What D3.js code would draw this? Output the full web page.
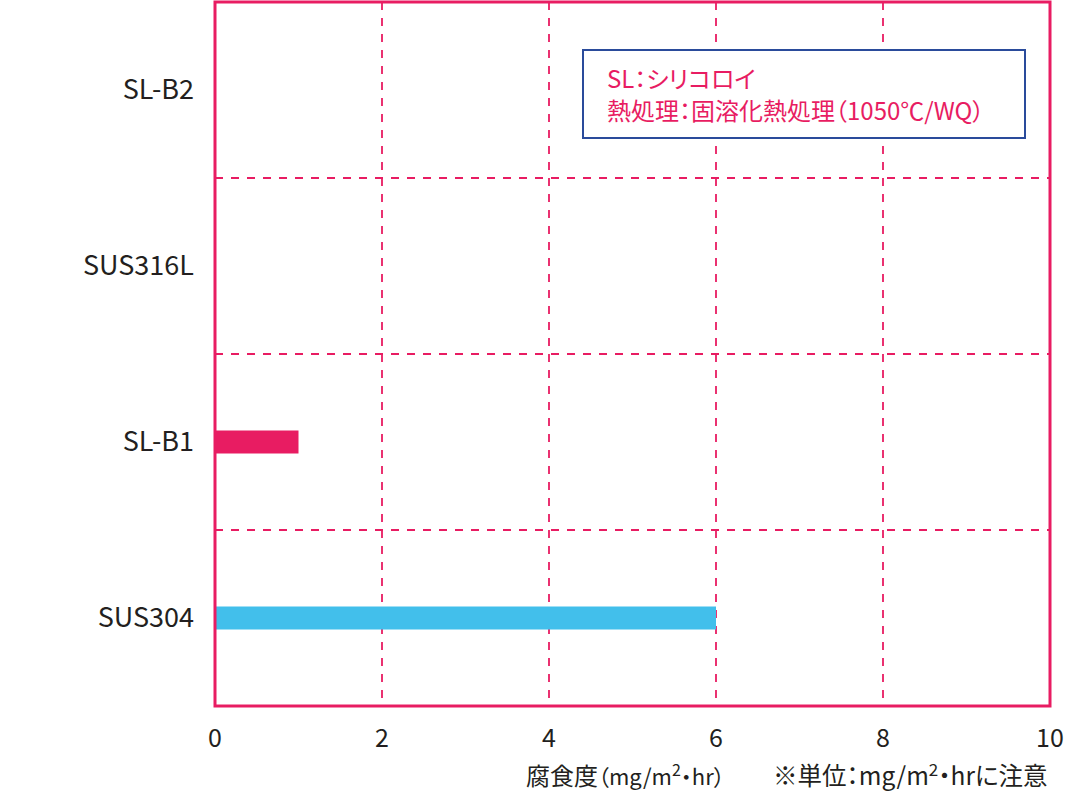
<!DOCTYPE html>
<html><head><meta charset="utf-8">
<script src="https://cdn.jsdelivr.net/npm/d3@7"></script>
<style>body{margin:0;background:#fff}svg{display:block}text{font-family:"Noto Sans CJK JP","Noto Sans",sans-serif;font-feature-settings:"palt"}</style>
</head><body>
<script>
const categories = ["SL-B2","SUS316L","SL-B1","SUS304"];
const values = [0,0,1,6];
const barColors = ["#e81c62","#e81c62","#e81c62","#42bfeb"];
const xTicks = [0,2,4,6,8,10];
const legendLines = ["SL：シリコロイ","熱処理：固溶化熱処理（1050℃/WQ）"];
const xTitleHead = "腐食度";
const xTitleUnit = "（mg/m";
const note = "※単位：mg/m";

const W=1070,H=795, pink="#e81c62", ink="#231f20";
const L=215,R=1050,T=2,B=706;
const svg=d3.select("body").append("svg").attr("width",W).attr("height",H);
const x=d3.scaleLinear().domain([0,10]).range([L,R]);
const y=d3.scaleBand().domain(categories).range([T,B]);

// grid
svg.append("g").selectAll("line").data(xTicks.filter(t=>t>0&&t<10)).join("line")
 .attr("x1",d=>x(d)).attr("x2",d=>x(d)).attr("y1",T).attr("y2",B)
 .attr("stroke",pink).attr("stroke-width",1.8).attr("stroke-dasharray","8,8");
svg.append("g").selectAll("line").data(categories.slice(1)).join("line")
 .attr("x1",L).attr("x2",R).attr("y1",d=>y(d)).attr("y2",d=>y(d))
 .attr("stroke",pink).attr("stroke-width",1.8).attr("stroke-dasharray","8,8");

// bars
const bh=23;
svg.append("g").selectAll("rect").data(categories).join("rect")
 .attr("x",x(0)).attr("y",d=>y(d)+y.bandwidth()/2-bh/2)
 .attr("width",(d,i)=>x(values[i])-x(0)).attr("height",bh)
 .attr("fill",(d,i)=>barColors[i]);

// frame
svg.append("rect").attr("x",L).attr("y",T).attr("width",R-L).attr("height",B-T)
 .attr("fill","none").attr("stroke",pink).attr("stroke-width",3);

// category labels
svg.append("g").selectAll("text").data(categories).join("text")
 .attr("x",L-21).attr("y",d=>y(d)+y.bandwidth()/2).attr("dy","0.35em")
 .attr("text-anchor","end").attr("font-size",27).attr("fill",ink).text(d=>d);

// x tick labels
svg.append("g").selectAll("text").data(xTicks).join("text")
 .attr("x",d=>x(d)).attr("y",747).attr("text-anchor","middle")
 .attr("font-size",25).attr("fill",ink).text(d=>d);

// x title
const t1=svg.append("text").attr("x",526).attr("y",785).attr("font-size",22).attr("fill",ink);
t1.append("tspan").attr("font-size",24).text(xTitleHead);
t1.append("tspan").text(xTitleUnit);
t1.append("tspan").attr("dy",-9).attr("font-size",16).text("2");
t1.append("tspan").attr("dy",9).text("・hr）");
const t2=svg.append("text").attr("x",773).attr("y",785).attr("font-size",24.5).attr("fill",ink);
t2.append("tspan").text(note);
t2.append("tspan").attr("dy",-9).attr("font-size",17).text("2");
t2.append("tspan").attr("dy",9).text("・hrに注意");

// legend box
svg.append("rect").attr("x",583).attr("y",50).attr("width",442).attr("height",88)
 .attr("fill","#fff").attr("stroke","#2a4b9b").attr("stroke-width",2);
svg.append("g").selectAll("text").data(legendLines).join("text")
 .attr("x",607).attr("y",(d,i)=>88+i*32).attr("font-size",24).attr("fill",pink).text(d=>d);
</script>
</body></html>
